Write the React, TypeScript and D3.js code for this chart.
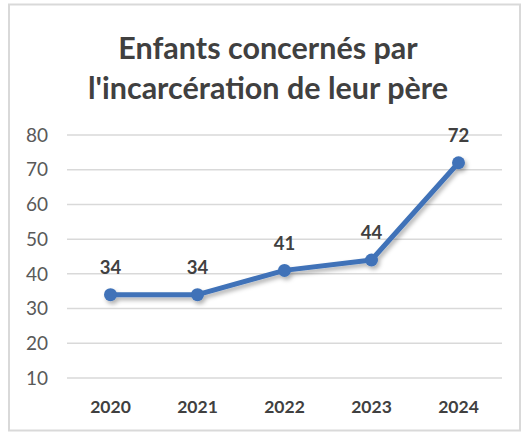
import React from "react";
import * as d3 from "d3";

const years = ["2020", "2021", "2022", "2023", "2024"];
const values = [34, 34, 41, 44, 72];
const yTicks = [10, 20, 30, 40, 50, 60, 70, 80];
const titleLines = ["Enfants concernés par", "l'incarcération de leur père"];

export default function App() {
  const W = 522, H = 432;
  const x = d3.scaleBand().domain(years).range([67, 502]);
  const y = d3.scaleLinear().domain([10, 80]).range([378, 135]);
  const line = d3.line<number>()
    .x((_, i) => (x(years[i]) as number) + x.bandwidth() / 2)
    .y((d) => y(d));
  const color = "#3F72B8";
  const font = "Lato, 'Open Sans', sans-serif";
  return (
    <div style={{ position: "fixed", left: 0, top: 0 }}>
      <svg width={W} height={H} style={{ display: "block" }}>
        <defs>
          <filter id="sh" x="-20%" y="-20%" width="140%" height="140%">
            <feDropShadow dx="2" dy="3" stdDeviation="2" floodColor="#000" floodOpacity="0.3" />
          </filter>
        </defs>
        <rect x={0} y={0} width={W} height={H} fill="#fff" />
        <rect x={9} y={4.5} width={511} height={426} fill="#fff" stroke="#d9d9d9" strokeWidth={2} />
        {titleLines.map((t, i) => (
          <text key={i} x={268} y={59 + i * 40} textAnchor="middle" fontFamily={font}
            fontWeight="bold" fontSize={30.5} fill="#404040">{t}</text>
        ))}
        {yTicks.map((t) => (
          <g key={t}>
            <line x1={67} x2={502} y1={y(t)} y2={y(t)} stroke="#d9d9d9" strokeWidth={1.5} />
            <text x={48} y={y(t)} dy="0.35em" textAnchor="end" fontFamily={font}
              fontSize={19} fill="#595959">{t}</text>
          </g>
        ))}
        {years.map((yr) => (
          <text key={yr} x={(x(yr) as number) + x.bandwidth() / 2} y={407} dy="0.35em"
            textAnchor="middle" fontFamily={font} fontWeight="bold" fontSize={17.5} fill="#404040">{yr}</text>
        ))}
        <g filter="url(#sh)">
          <path d={line(values) || ""} fill="none" stroke={color} strokeWidth={5} strokeLinejoin="round" />
          {values.map((v, i) => (
            <circle key={i} cx={(x(years[i]) as number) + x.bandwidth() / 2} cy={y(v)} r={6.5} fill={color} />
          ))}
        </g>
        {values.map((v, i) => (
          <text key={i} x={(x(years[i]) as number) + x.bandwidth() / 2} y={y(v) - 27} dy="0.35em"
            textAnchor="middle" fontFamily={font} fontWeight="bold" fontSize={18.5} fill="#404040">{v}</text>
        ))}
      </svg>
    </div>
  );
}
